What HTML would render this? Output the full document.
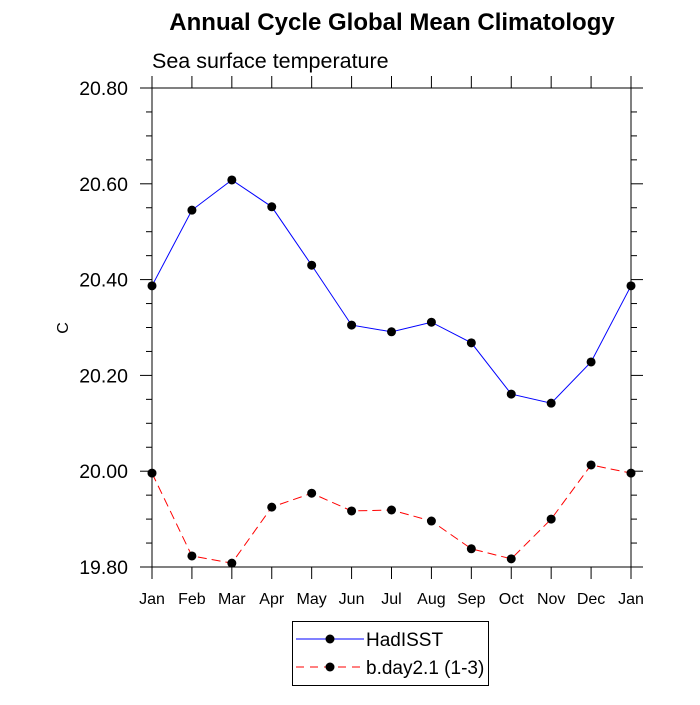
<!DOCTYPE html>
<html><head><meta charset="utf-8"><style>
body{margin:0;background:#fff;}
svg{font-family:"Liberation Sans",sans-serif;}
</style></head><body>
<svg id="c" width="700" height="700" xmlns="http://www.w3.org/2000/svg">
<text x="392" y="30" text-anchor="middle" font-size="24" font-weight="bold">Annual Cycle Global Mean Climatology</text>
<text x="152" y="68" font-size="21.5">Sea surface temperature</text>
<text x="0" y="0" font-size="16" transform="translate(68,328) rotate(-90)" text-anchor="middle">C</text>
<g id="axes"></g>
<g id="series"></g>
<g>
<rect x="292.5" y="621.5" width="196" height="64" fill="none" stroke="#000" stroke-width="1"/>
<g>
<line x1="296" y1="639" x2="364" y2="639" stroke="#0000ff" stroke-width="1"/>
<circle cx="330" cy="639" r="4.5" fill="#000"/>
<text x="366" y="646" font-size="19">HadISST</text></g>
<g>
<line x1="296" y1="667" x2="364" y2="667" stroke="#ff0000" stroke-width="1" stroke-dasharray="8,6"/>
<circle cx="330" cy="667" r="4.5" fill="#000"/>
<text x="366" y="674" font-size="19">b.day2.1 (1-3)</text></g>
</g>
</svg>
<script>
const months=["Jan","Feb","Mar","Apr","May","Jun","Jul","Aug","Sep","Oct","Nov","Dec","Jan"];
const yTicks=[19.8,20.0,20.2,20.4,20.6,20.8];
const hadisst=[20.387,20.545,20.608,20.552,20.430,20.305,20.291,20.311,20.268,20.161,20.142,20.228,20.387];
const bday=[19.996,19.823,19.808,19.925,19.954,19.917,19.919,19.896,19.838,19.817,19.900,20.013,19.996];
const L=152,R=631,T=88,B=567,ymin=19.8,ymax=20.8;
const NS="http://www.w3.org/2000/svg";
const xs=i=>L+(R-L)*i/(months.length-1);
const ys=v=>B-(B-T)*(v-ymin)/(ymax-ymin);
function mk(tag,attrs,parent){const e=document.createElementNS(NS,tag);for(const k in attrs)e.setAttribute(k,attrs[k]);parent.appendChild(e);return e;}
const ax=document.getElementById('axes');
const frame=mk('rect',{x:L,y:T,width:R-L,height:B-T,fill:'none',stroke:'#000','stroke-width':1},ax);


months.forEach((m,i)=>{
  const x=xs(i);
  mk('line',{x1:x,y1:B,x2:x,y2:B+12,stroke:'#000'},ax);
  mk('line',{x1:x,y1:T,x2:x,y2:T-12,stroke:'#000'},ax);
  const t=mk('text',{x:x,y:B+37,'text-anchor':'middle','font-size':16},ax);
  t.textContent=m;
  
  
});
for(let k=0;k<=20;k++){
  const v=ymin+k*0.05,y=ys(v),len=(k%4===0)?12:6;
  mk('line',{x1:L,y1:y,x2:L-len,y2:y,stroke:'#000'},ax);
  mk('line',{x1:R,y1:y,x2:R+len,y2:y,stroke:'#000'},ax);
}
yTicks.forEach(v=>{
  const t=mk('text',{x:L-24,y:ys(v)+7,'text-anchor':'end','font-size':19.5},ax);
  t.textContent=v.toFixed(2);
  
  
});
const sg=document.getElementById('series');
function series(data,color,dash,name){
  const g=mk('g',{},sg);
  
  
  const p=mk('polyline',{points:data.map((v,i)=>xs(i)+','+ys(v)).join(' '),fill:'none',stroke:color,'stroke-width':1},g);
  if(dash)p.setAttribute('stroke-dasharray',dash);
  data.forEach((v,i)=>{
    const c=mk('circle',{cx:xs(i),cy:ys(v),r:4.5,fill:'#000'},g);
    
    
  });
}
series(hadisst,'#0000ff',null,'series-hadisst');
series(bday,'#ff0000','9,5','series-bday');
</script>
</body></html>
